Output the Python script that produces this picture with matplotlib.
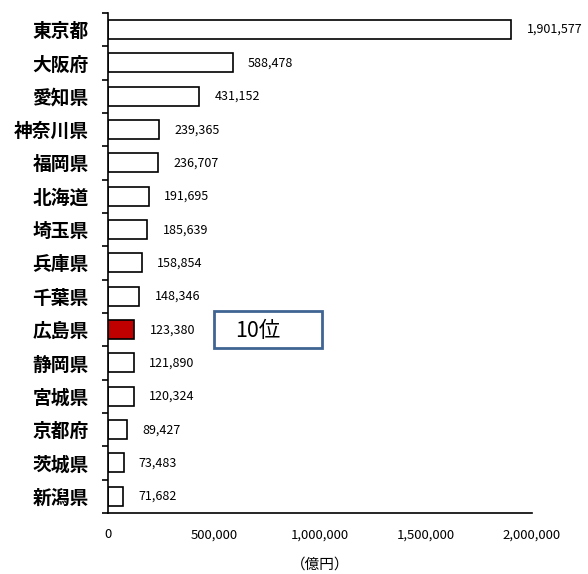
import matplotlib.pyplot as plt
import matplotlib.ticker as mticker
from matplotlib.patches import Rectangle
import numpy as np

plt.rcParams['font.family'] = ['Noto Sans CJK JP', 'DejaVu Sans']

prefectures = ['東京都', '大阪府', '愛知県', '神奈川県', '福岡県', '北海道', '埼玉県', '兵庫県',
               '千葉県', '広島県', '静岡県', '宮城県', '京都府', '茨城県', '新潟県']
values = [1901577, 588478, 431152, 239365, 236707, 191695, 185639, 158854,
          148346, 123380, 121890, 120324, 89427, 73483, 71682]
highlight = '広島県'
xticks = [0, 500000, 1000000, 1500000, 2000000]

fig = plt.figure(figsize=(5.88, 5.74), dpi=100)
ax = fig.add_axes([0.1837, 0.1063, 0.7211, 0.8711])

y = np.arange(len(prefectures))
colors = ['#c00000' if p == highlight else 'white' for p in prefectures]
ax.barh(y, values, height=0.57, color=colors, edgecolor='black', linewidth=1.2)

for yi, v in zip(y, values):
    ax.annotate(f'{v:,}', (v, yi), xytext=(11, 0), textcoords='offset points',
                ha='left', va='center', fontsize=9)

ax.set_ylim(len(prefectures) - 0.5, -0.5)
ax.set_xlim(0, 2000000)
ax.set_yticks(y)
ax.set_yticklabels(prefectures, fontsize=13.5, fontweight='bold')
ax.set_yticks(np.arange(len(prefectures) + 1) - 0.5, minor=True)
ax.tick_params(axis='y', which='major', length=0, pad=14)
ax.tick_params(axis='y', which='minor', length=4.5, width=1.2)
ax.set_xticks(xticks)
ax.xaxis.set_major_formatter(mticker.FuncFormatter(lambda v, p: f'{int(v):,}'))
ax.tick_params(axis='x', length=0, labelsize=9.5, pad=11)
ax.set_xlabel('（億円）', fontsize=10.5, labelpad=12)

for s in ['top', 'right']:
    ax.spines[s].set_visible(False)
ax.spines['left'].set_linewidth(1.2)
ax.spines['bottom'].set_linewidth(1.2)

# rank box next to the highlighted bar
ax.add_patch(Rectangle((500000, 8.45), 510000, 1.1, facecolor='white',
                       edgecolor='#3f6593', linewidth=2, zorder=3))
ax.text(600000, 9.05, '10位', fontsize=15.5, ha='left', va='center', zorder=4)

fig.savefig('out.png', dpi=100)
